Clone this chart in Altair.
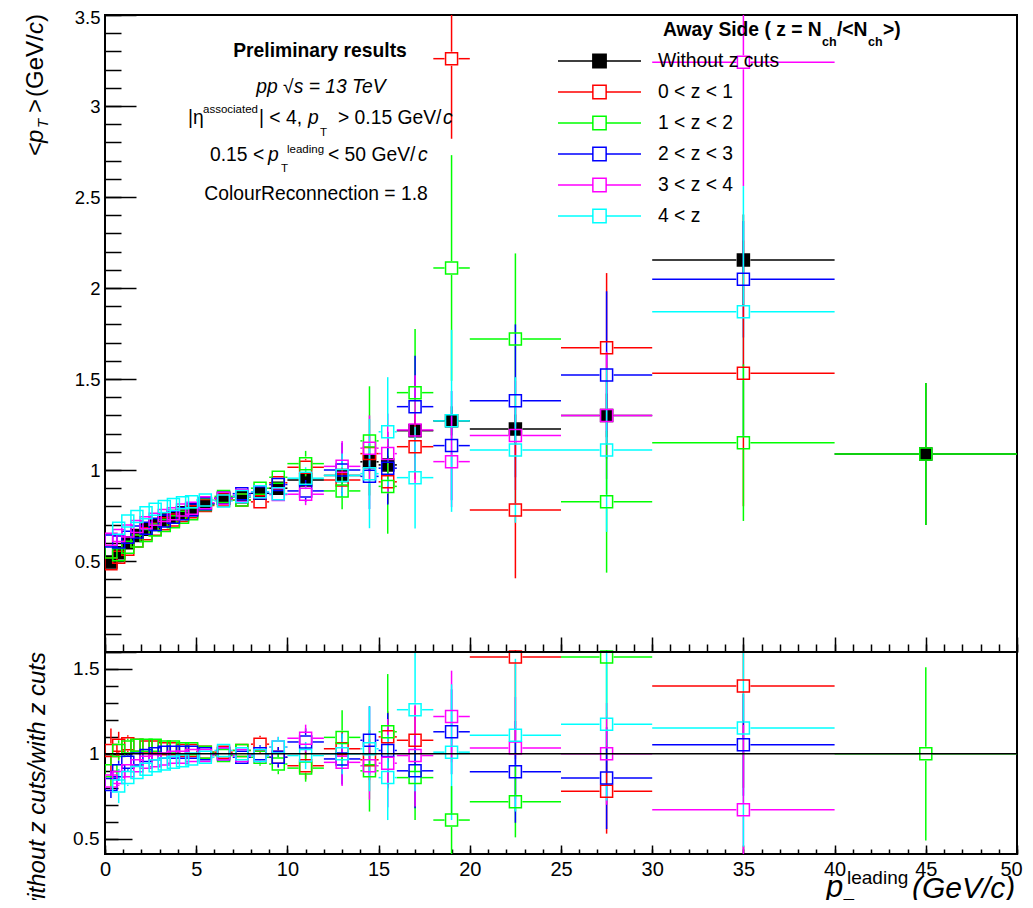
import altair as alt
import pandas as pd

FONT = "Liberation Sans"

# ---------------- data ----------------
series_names = ["Without z cuts", "0 < z < 1", "1 < z < 2", "2 < z < 3", "3 < z < 4", "4 < z"]
series_colors = ["#000000", "#ff0000", "#00ff00", "#0000ff", "#ff00ff", "#00ffff"]
series_fills = ["#000000", "transparent", "transparent", "transparent", "transparent", "transparent"]

bin_low = [0.15, 0.5, 1.0, 1.5, 2.0, 2.5, 3.0, 3.5, 4.0, 4.5, 5.0, 6.0, 7.0, 8.0, 9.0,
           10.0, 12.0, 14.0, 15.0, 16.0, 18.0, 20.0, 25.0, 30.0, 40.0]
bin_high = [0.5, 1.0, 1.5, 2.0, 2.5, 3.0, 3.5, 4.0, 4.5, 5.0, 6.0, 7.0, 8.0, 9.0, 10.0,
            12.0, 14.0, 15.0, 16.0, 18.0, 20.0, 25.0, 30.0, 40.0, 50.0]
bin_center = [0.325, 0.75, 1.25, 1.75, 2.25, 2.75, 3.25, 3.75, 4.25, 4.75, 5.5, 6.5, 7.5, 8.5, 9.5,
              11.0, 13.0, 14.5, 15.5, 17.0, 19.0, 22.5, 27.5, 35.0, 45.0]

# <pT> (GeV/c)
mean_all = [0.495, 0.545, 0.60, 0.64, 0.675, 0.70, 0.725, 0.745, 0.765, 0.785, 0.815, 0.845, 0.853, 0.872, 0.90,
            0.945, 0.97, 1.045, 1.028, 1.216, 1.27, 1.225, 1.30, 2.154, 1.088]
err_all = [0.004, 0.004, 0.004, 0.004, 0.005, 0.005, 0.005, 0.006, 0.006, 0.007, 0.007, 0.009, 0.011, 0.014, 0.018,
           0.02, 0.03, 0.045, 0.05, 0.06, 0.08, 0.08, 0.12, 0.25, 0.39]
mean_z01 = [0.485, 0.52, 0.565, 0.61, 0.65, 0.675, 0.705, 0.725, 0.75, 0.77, 0.805, 0.835, 0.835, 0.825, 0.93,
            1.015, 0.945, 1.09, 0.935, 1.128, 3.26, 0.78, 1.672, 1.531, None]
err_z01 = [0.01, 0.008, 0.008, 0.008, 0.008, 0.008, 0.009, 0.01, 0.01, 0.012, 0.012, 0.015, 0.02, 0.025, 0.03,
           0.045, 0.07, 0.1, 0.12, 0.18, 0.44, 0.375, 0.41, 0.73, None]
mean_z12 = [0.55, 0.535, 0.575, 0.61, 0.64, 0.67, 0.695, 0.715, 0.74, 0.76, 0.81, 0.855, 0.835, 0.90, 0.96,
            1.035, 0.885, 1.16, 0.91, 1.425, 2.11, 1.72, 0.826, 1.15, 1.088]
err_z12 = [0.02, 0.012, 0.01, 0.01, 0.01, 0.01, 0.012, 0.012, 0.014, 0.015, 0.015, 0.02, 0.025, 0.03, 0.04,
           0.07, 0.1, 0.3, 0.26, 0.35, 0.62, 0.47, 0.39, 0.43, 0.39]
mean_z23 = [0.61, 0.605, 0.63, 0.66, 0.68, 0.70, 0.72, 0.74, 0.76, 0.78, 0.815, 0.845, 0.87, 0.875, 0.92,
            0.885, 1.0, 0.965, 1.01, 1.348, 1.134, 1.38, 1.522, 2.048, None]
err_z23 = [0.03, 0.015, 0.01, 0.01, 0.01, 0.01, 0.01, 0.012, 0.012, 0.014, 0.015, 0.02, 0.025, 0.03, 0.04,
           0.06, 0.15, 0.18, 0.2, 0.28, 0.3, 0.42, 0.46, 0.32, None]
mean_z34 = [0.62, 0.64, 0.665, 0.69, 0.71, 0.73, 0.75, 0.76, 0.78, 0.79, 0.82, 0.845, 0.86, 0.88, 0.865,
            0.867, 1.02, 1.12, 1.09, 1.22, 1.046, 1.19, 1.30, 3.24, None]
err_z34 = [0.02, 0.012, 0.01, 0.01, 0.01, 0.01, 0.01, 0.012, 0.012, 0.014, 0.015, 0.02, 0.025, 0.03, 0.04,
           0.06, 0.14, 0.18, 0.22, 0.3, 0.25, 0.3, 0.35, 0.68, None]
mean_z4 = [None, 0.68, 0.72, 0.745, 0.765, 0.785, 0.80, 0.81, 0.82, 0.825, 0.835, 0.83, 0.855, 0.88, 0.87,
           0.955, 0.97, 0.98, 1.21, 0.958, 1.27, 1.11, 1.11, 1.87, None]
err_z4 = [None, 0.015, 0.012, 0.01, 0.01, 0.01, 0.01, 0.012, 0.012, 0.014, 0.015, 0.02, 0.025, 0.03, 0.04,
          0.06, 0.12, 0.3, 0.3, 0.28, 0.5, 0.4, 0.45, 0.69, None]

# ratio: without z cuts / with z cuts
ratio_z01 = [1.02, 1.05, 1.06, 1.05, 1.04, 1.04, 1.03, 1.03, 1.02, 1.02, 1.01, 1.01, 1.02, 1.057, 0.98,
             0.93, 1.03, 0.965, 1.10, 1.08, None, 1.57, 0.78, 1.40, None]
rerr_z01 = [0.13, 0.08, 0.05, 0.04, 0.035, 0.03, 0.03, 0.03, 0.03, 0.03, 0.03, 0.035, 0.04, 0.05, 0.06,
            0.08, 0.1, 0.12, 0.15, 0.2, None, 0.6, 0.25, 0.6, None]
ratio_z12 = [0.90, 1.02, 1.04, 1.05, 1.05, 1.05, 1.04, 1.04, 1.03, 1.03, 1.01, 0.99, 1.02, 0.98, 0.94,
             0.916, 1.097, 0.90, 1.13, 0.86, 0.61, 0.718, 1.57, None, 1.0]
rerr_z12 = [0.1, 0.06, 0.05, 0.04, 0.035, 0.03, 0.03, 0.03, 0.03, 0.03, 0.03, 0.035, 0.04, 0.05, 0.06,
            0.08, 0.16, 0.24, 0.34, 0.25, 0.2, 0.21, 0.55, None, 0.51]
ratio_z23 = [0.82, 0.90, 0.95, 0.97, 0.99, 1.0, 1.01, 1.01, 1.01, 1.01, 1.0, 1.0, 0.98, 1.0, 0.98,
             1.07, 0.97, 1.08, 1.02, 0.90, 1.13, 0.894, 0.857, 1.053, None]
rerr_z23 = [0.08, 0.06, 0.05, 0.04, 0.035, 0.03, 0.03, 0.03, 0.03, 0.03, 0.03, 0.035, 0.04, 0.05, 0.06,
            0.08, 0.15, 0.2, 0.22, 0.22, 0.25, 0.3, 0.3, 0.3, None]
ratio_z34 = [0.84, 0.86, 0.90, 0.93, 0.95, 0.96, 0.97, 0.98, 0.98, 0.99, 0.99, 1.0, 0.99, 0.99, 1.04,
             1.092, 0.95, 0.93, 0.945, 0.99, 1.22, 1.035, 1.0, 0.67, None]
rerr_z34 = [0.06, 0.05, 0.04, 0.035, 0.03, 0.03, 0.03, 0.03, 0.03, 0.03, 0.03, 0.035, 0.04, 0.05, 0.06,
            0.08, 0.14, 0.2, 0.26, 0.3, 0.27, 0.3, 0.3, 0.5, None]
ratio_z4 = [None, 0.81, 0.86, 0.89, 0.91, 0.93, 0.94, 0.95, 0.96, 0.97, 0.98, 1.02, 1.0, 0.99, 1.04,
            0.99, 1.0, 1.03, 0.86, 1.26, 1.01, 1.11, 1.175, 1.153, None]
rerr_z4 = [None, 0.1, 0.05, 0.04, 0.035, 0.03, 0.03, 0.03, 0.03, 0.03, 0.03, 0.035, 0.04, 0.05, 0.06,
           0.08, 0.12, 0.25, 0.25, 0.48, 0.4, 0.45, 0.45, 0.7, None]

ratio_reference = [1.0]
pad_boundary = [1.6]

x_major_ticks = [0, 5, 10, 15, 20, 25, 30, 35, 40, 45, 50]
x_minor_ticks = list(range(0, 51))
y_top_labels = [0.5, 1.0, 1.5, 2.0, 2.5, 3.0, 3.5]
y_top_major = [0.0, 0.5, 1.0, 1.5, 2.0, 2.5, 3.0, 3.5]
y_top_minor = [round(0.1 * i, 1) for i in range(0, 36)]
y_bot_major = [0.5, 1.0, 1.5]
y_bot_minor = [round(0.5 + 0.1 * i, 1) for i in range(0, 11)]


def build(names, values, errors):
    rows = []
    for name, vals, errs in zip(names, values, errors):
        for lo, hi, xc, v, e in zip(bin_low, bin_high, bin_center, vals, errs):
            if v is None:
                continue
            rows.append({"series": name, "x": xc, "xlo": lo, "xhi": hi,
                         "y": v, "ylo": v - e, "yhi": v + e})
    return pd.DataFrame(rows)


top_df = build(series_names,
               [mean_all, mean_z01, mean_z12, mean_z23, mean_z34, mean_z4],
               [err_all, err_z01, err_z12, err_z23, err_z34, err_z4])
ratio_df = build(series_names[1:],
                 [ratio_z01, ratio_z12, ratio_z23, ratio_z34, ratio_z4],
                 [rerr_z01, rerr_z12, rerr_z23, rerr_z34, rerr_z4])

# ---------------- layout ----------------
W = 912
H_TOP = 637
H_ALL = 839
GAP = 7  # error bars stop at the marker edge, as ROOT draws them

XS = alt.Scale(domain=[0, 50], nice=False, zero=False)
YT = alt.Scale(domain=[0, 3.5], range=[H_TOP, 0], nice=False, zero=False, clamp=True)
YB = alt.Scale(domain=[0.41, 1.6], range=[H_ALL, H_TOP], nice=False, zero=False, clamp=True)
stroke_scale = alt.Scale(domain=series_names, range=series_colors)
fill_scale = alt.Scale(domain=series_names, range=series_fills)


def tick_axis(orient, offset, values, size):
    return alt.Axis(orient=orient, offset=offset, values=values, tickSize=size, ticks=True,
                    labels=False, domain=False, grid=False, title=None,
                    tickColor="black", tickWidth=1.5)


def label_axis(orient, values, size, padding, edge_value=None, edge_shift=0):
    kw = {}
    if edge_value is not None:
        kw["labelOffset"] = {"condition": {"test": "datum.value == %g" % edge_value, "value": edge_shift},
                             "value": 0}
    return alt.Axis(orient=orient, values=values, ticks=False, tickSize=0, domain=False,
                    grid=False, labels=True, labelFont=FONT, labelFontSize=size,
                    labelColor="black", labelPadding=padding, format="~g", title=None,
                    labelFlush=False, labelOverlap=False, **kw)


LEGEND_PATH = "M-1,0H-0.16M0.16,0H1M-0.16,-0.16H0.16V0.16H-0.16Z"
LEG = alt.Legend(title=None, orient="none", legendX=452, legendY=36,
                 symbolType=LEGEND_PATH, symbolSize=6889, symbolStrokeWidth=1.5,
                 symbolOpacity=1, labelFont=FONT, labelFontSize=19.3, labelColor="black",
                 labelOffset=16, clipHeight=20, rowPadding=10, padding=0, labelLimit=300)

color_enc = alt.Color("series:N", scale=stroke_scale, legend=None)
point_kw = dict(shape="square", size=144, strokeWidth=1.5, opacity=1, clip=True)
rule_kw = dict(strokeWidth=1.5, clip=True)


def panel(df, yscale, yerr_min, axes, legend, black_first):
    layers = []
    st = alt.Stroke("series:N", scale=stroke_scale, legend=legend)
    fl = alt.Fill("series:N", scale=fill_scale, legend=legend)
    if black_first:
        layers.append(alt.Chart(df).transform_filter(alt.datum.series == "Without z cuts")
                      .mark_point(**point_kw).encode(
            x=alt.X("x:Q", scale=XS, axis=axes["pts0"][0]),
            y=alt.Y("y:Q", scale=yscale, axis=axes["pts0"][1]),
            stroke=st, fill=fl))
    xb = alt.Chart(df).transform_filter("datum.xhi - datum.x > 0.4")
    yb = alt.Chart(df).transform_filter("datum.yhi - datum.y > %g" % yerr_min)
    layers.append(xb.mark_rule(x2Offset=-GAP, **rule_kw).encode(
        x=alt.X("xlo:Q", scale=XS, axis=axes["xl"][0]), x2="x:Q",
        y=alt.Y("y:Q", scale=yscale, axis=axes["xl"][1]), color=color_enc))
    layers.append(xb.mark_rule(xOffset=GAP, **rule_kw).encode(
        x=alt.X("x:Q", scale=XS, axis=axes["xr"][0]), x2="xhi:Q",
        y=alt.Y("y:Q", scale=yscale, axis=axes["xr"][1]), color=color_enc))
    layers.append(yb.mark_rule(y2Offset=GAP, **rule_kw).encode(
        x=alt.X("x:Q", scale=XS, axis=axes["yl"][0]),
        y=alt.Y("ylo:Q", scale=yscale, axis=axes["yl"][1]), y2="y:Q", color=color_enc))
    layers.append(yb.mark_rule(yOffset=-GAP, **rule_kw).encode(
        x=alt.X("x:Q", scale=XS, axis=None),
        y=alt.Y("y:Q", scale=yscale, axis=None), y2="yhi:Q", color=color_enc))
    layers.append(alt.Chart(df).transform_filter(alt.datum.series != "Without z cuts")
                  .mark_point(**point_kw).encode(
        x=alt.X("x:Q", scale=XS, axis=None),
        y=alt.Y("y:Q", scale=yscale, axis=None),
        stroke=st, fill=fl))
    return layers


top_layers = panel(top_df, YT, 0.042, {
    "pts0": (tick_axis("top", -H_TOP, x_major_ticks, 15),
             label_axis("left", y_top_labels, 18.5, 5, edge_value=3.5, edge_shift=2)),
    "xl": (tick_axis("top", -H_TOP, x_minor_ticks, 8), tick_axis("right", -W, y_top_major, 31)),
    "xr": (None, tick_axis("right", -W, y_top_minor, 16)),
    "yl": (None, None),
}, LEG, True)

bottom_layers = panel(ratio_df, YB, 0.045, {
    "xl": (label_axis("bottom", x_major_ticks, 20, 5, edge_value=50, edge_shift=-6),
           label_axis("left", y_bot_major, 19, 6)),
    "xr": (tick_axis("top", -H_ALL, x_major_ticks, 9), tick_axis("right", -W, y_bot_major, 27)),
    "yl": (tick_axis("top", -H_ALL, x_minor_ticks, 5), tick_axis("right", -W, y_bot_minor, 13)),
}, None, False)

b_one = alt.Chart(pd.DataFrame({"ref": ratio_reference})).mark_rule(color="black", strokeWidth=1.5).encode(
    y=alt.Y("ref:Q", scale=YB, axis=None))

b_edge = alt.Chart(pd.DataFrame({"edge": pad_boundary})).mark_rule(color="black", strokeWidth=2).encode(
    y=alt.Y("edge:Q", scale=YB, axis=None))

# ---------------- text ----------------
ANCHOR = alt.Data(values=[{"k": 0}])
FS = 19.3


def txt(s, x, y, size=FS, style="normal", weight="normal", align="left", angle=0):
    return alt.Chart(ANCHOR).mark_text(
        text=s, font=FONT, fontSize=size, fontStyle=style, fontWeight=weight,
        align=align, baseline="alphabetic", angle=angle, color="black"
    ).encode(x=alt.value(x), y=alt.value(y))


texts = [
    txt("Preliminary results", 215, 42, FS, weight="bold", align="center"),
    txt("pp \u221as = 13 TeV", 216, 78, FS, style="italic", align="center"),
    txt("|\u03b7", 83, 109),
    txt("associated", 98, 98, 11.5),
    txt("| < 4,", 154, 109),
    txt("p", 203, 109, style="italic"),
    txt("T", 215, 121, 11.5),
    txt("> 0.15 GeV/", 233, 109),
    txt("c", 338, 109, style="italic"),
    txt("0.15 <", 105, 146),
    txt("p", 163, 146, style="italic"),
    txt("T", 176, 157, 11.5),
    txt("leading", 182, 138, 11.5),
    txt("< 50 GeV/", 223, 146),
    txt("c", 313, 146, style="italic"),
    txt("ColourReconnection = 1.8", 211, 185, FS, align="center"),
    # legend header
    txt("Away Side ( z = N", 558, 21, FS, weight="bold"),
    txt("ch", 717, 31, 12.5, weight="bold"),
    txt("/<N", 732, 21, FS, weight="bold"),
    txt("ch", 763, 31, 12.5, weight="bold"),
    txt(">)", 778, 21, FS, weight="bold"),
    # y title top
    txt("<", -62, 141, 24, angle=270),
    txt("p", -62, 128, 24, style="italic", angle=270),
    txt("T", -57, 113, 15, style="italic", angle=270),
    txt(">", -62, 98, 24, angle=270),
    txt("(GeV/", -62, 82, 24, angle=270),
    txt("c", -62, 19, 24, style="italic", angle=270),
    txt(")", -62, 7, 24, angle=270),
    # y title bottom
    txt("without z cuts/with z cuts", -60, 637, 24, style="italic", align="right", angle=270),
    # x title
    txt("p", 721, 882, 31, style="italic"),
    txt("T", 738, 897, 19),
    txt("leading", 742, 869, 19),
    txt("(GeV/c)", 807, 883, 30, style="italic"),
]

chart = alt.layer(
    *top_layers, *bottom_layers, b_one, b_edge, *texts
).resolve_scale(
    y="independent"
).resolve_axis(
    x="independent", y="independent"
).properties(
    width=W, height=H_ALL,
    autosize=alt.AutoSizeParams(type="none"),
    padding={"left": 97, "top": 7, "right": 8, "bottom": 46},
    background="white",
).configure_view(
    stroke="black", strokeWidth=2
)

chart.save("out.html", embed_options={"renderer": "svg", "actions": False})
